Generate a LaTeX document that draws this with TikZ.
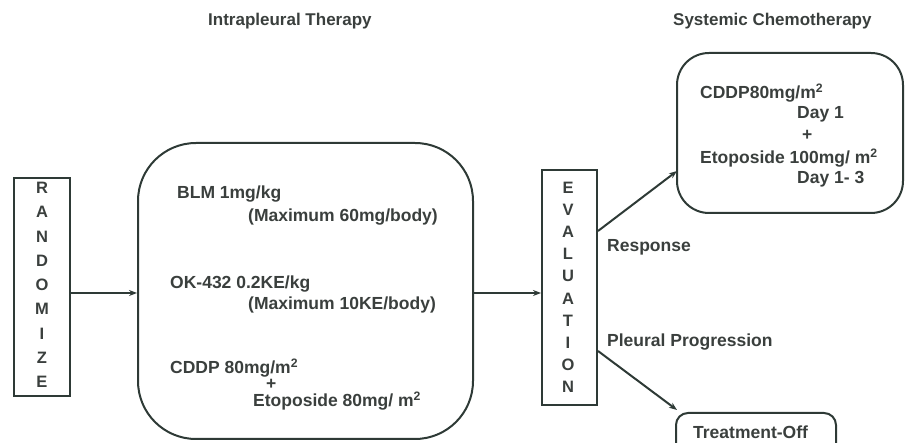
\documentclass[tikz,border=0pt]{standalone}
\usepackage{fontspec}
\setmainfont{Liberation Sans}
\usetikzlibrary{arrows.meta}
\definecolor{ink}{HTML}{2E3A36}
\definecolor{txt}{HTML}{3A3F3D}
\begin{document}
\begin{tikzpicture}[x=1pt,y=-1pt,
  box/.style={draw=ink,line width=2pt,inner sep=0pt},
  lbl/.style={font=\bfseries\fontsize{17.5}{20}\selectfont,text=txt,inner sep=0pt,anchor=base west},
  ttl/.style={font=\bfseries\fontsize{17}{20}\selectfont,text=txt,inner sep=0pt,anchor=base west},
  vlet/.style={font=\bfseries\fontsize{16.5}{18}\selectfont,text=txt,inner sep=0pt},
  conn/.style={draw=ink,line width=2pt,-{Stealth[length=8pt,width=6pt]}}]
\useasboundingbox (0,0) rectangle (906,443);
% titles
\node[ttl] (t1) at (208,26) {Intrapleural Therapy};
\node[ttl] (t2) at (673,26) {Systemic Chemotherapy};
% randomize box
\node[box,minimum width=56pt,minimum height=218pt] (rand) at (42,287) {};
\foreach \l [count=\i from 0] in {R,A,N,D,O,M,I,Z,E}
  \node[vlet] (r\i) at (42,188+\i*24.25) {\l};
% intrapleural box
\node[box,rounded corners=58pt,minimum width=335pt,minimum height=296pt] (intra) at (305.5,291) {};
\node[lbl] (a1) at (177,199) {BLM 1mg/kg};
\node[lbl] (a2) at (248,222) {(Maximum 60mg/body)};
\node[lbl] (b1) at (170,289) {OK-432 0.2KE/kg};
\node[lbl] (b2) at (248,310) {(Maximum 10KE/body)};
\node[lbl] (c1) at (170,374) {CDDP 80mg/m\textsuperscript{2}};
\node[lbl] (c2) at (266,390) {+};
\node[lbl] (c3) at (253,407) {Etoposide 80mg/ m\textsuperscript{2}};
% evaluation box
\node[box,minimum width=55pt,minimum height=235pt] (eval) at (569.5,287.5) {};
\foreach \l [count=\i from 0] in {E,V,A,L,U,A,T,I,O,N}
  \node[vlet] (e\i) at (568,188+\i*22.1) {\l};
% systemic box
\node[box,rounded corners=32pt,minimum width=226pt,minimum height=160pt] (sys) at (790,133) {};
\node[lbl] (s1) at (700,99) {CDDP80mg/m\textsuperscript{2}};
\node[lbl] (s2) at (797,119) {Day 1};
\node[lbl] (s3) at (802,141) {+};
\node[lbl] (s4) at (700,164) {Etoposide 100mg/ m\textsuperscript{2}};
\node[lbl] (s5) at (797,184) {Day 1- 3};
% treatment-off
\node[box,rounded corners=12pt,minimum width=160pt,minimum height=50pt,anchor=north west] (off) at (675,412) {};
\node[lbl] (o1) at (693,439) {Treatment-Off};
% labels
\node[lbl] (resp) at (607,252) {Response};
\node[lbl] (prog) at (607,347) {Pleural Progression};
% connectors
\coordinate (ra) at (70,293);
\coordinate (ia) at (473,293);
\coordinate (eo1) at (597,231);
\coordinate (eo2) at (597,351);
\coordinate (si) at (677,171);
\coordinate (oi) at (677,410);
\draw[conn] (rand.east |- ra) -- (intra.west |- ra);
\draw[conn] (intra.east |- ia) -- (eval.west |- ia);
\draw[conn] (eval.east |- eo1) -- (si);
\draw[conn] (eval.east |- eo2) -- (oi);
\end{tikzpicture}
\end{document}
